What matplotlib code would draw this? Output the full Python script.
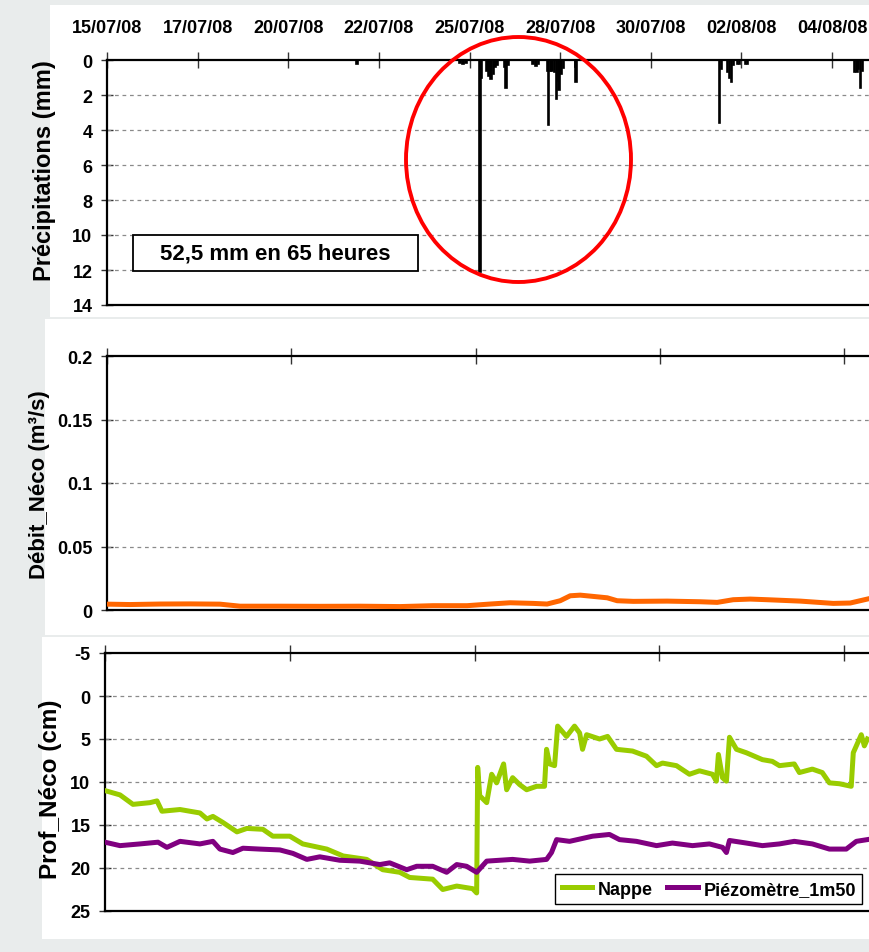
import matplotlib
matplotlib.use("Agg")
import matplotlib.pyplot as plt
from matplotlib.patches import Ellipse, Rectangle
import numpy as np

plt.rcParams['font.family'] = ['Liberation Sans', 'DejaVu Sans']
plt.rcParams['font.weight'] = 'bold'

# ---------------- data (time in hours from 15/07/08 00:00) ----------------
date_labels = ["15/07/08", "17/07/08", "20/07/08", "22/07/08", "25/07/08",
               "28/07/08", "30/07/08", "02/08/08", "04/08/08"]

rain_t = [172.3, 243.2, 245.3, 247.4, 257.0, 257.7, 261.8, 263.2, 264.6, 266.0,
          267.3, 268.7, 274.2, 274.9, 276.3, 293.5, 295.6, 297.0, 303.2, 303.9,
          305.3, 306.6, 308.0, 309.4, 310.8, 311.4, 312.8, 314.2, 322.5, 323.1,
          421.7, 423.0, 427.2, 428.6, 430.0, 431.3, 434.1, 435.4, 439.6, 441.0,
          514.7, 516.1, 517.4, 518.8, 520.2]
rain_mm = [0.2, 0.15, 0.2, 0.15, 12.1, 1.0, 0.6, 0.9, 1.1, 0.8,
           0.4, 0.3, 0.4, 1.6, 0.3, 0.2, 0.35, 0.2, 0.6, 3.7,
           0.6, 0.65, 0.7, 2.2, 1.2, 1.7, 0.8, 0.45, 0.4, 1.25,
           3.6, 0.5, 0.7, 1.0, 1.25, 0.3, 0.25, 0.25, 0.2, 0.2,
           0.7, 0.7, 0.5, 1.6, 0.6]

debit_t = [0.7, 15.8, 36.5, 57.2, 77.8, 91.6, 119.1, 146.7, 174.2, 201.8,
           224.5, 247.9, 263.8, 277.5, 293.4, 303.0, 312.0, 318.9, 325.8, 334.7,
           344.4, 351.2, 362.3, 385.7, 408.4, 420.1, 431.1, 442.8, 454.5, 477.3,
           500.0, 511.7, 523.4]
debit_v = [0.0046, 0.0043, 0.0047, 0.0048, 0.0046, 0.0030, 0.0030, 0.0029, 0.0030, 0.0027,
           0.0034, 0.0034, 0.0047, 0.0057, 0.0052, 0.0047, 0.0073, 0.0112, 0.0117, 0.0107,
           0.0096, 0.0073, 0.0068, 0.0070, 0.0065, 0.0060, 0.0081, 0.0086, 0.0081, 0.0070,
           0.0052, 0.0055, 0.0086]

nappe_t = [0, 10.3, 19.2, 30.9, 35.7, 39.1, 51.5, 58.3, 65.2, 70.0,
           74.1, 80.9, 90.6, 97.4, 108.4, 115.2, 126.9, 135.8, 152.3, 163.5,
           179.7, 190.7, 202.4, 209.2, 225.0, 231.9, 241.5, 252.4, 255.2, 255.9,
           257.3, 262.1, 265.5, 268.9, 273.7, 275.8, 279.9, 284.7, 289.5, 296.4,
           301.8, 303.2, 305.3, 308.7, 310.8, 316.9, 322.4, 325.9, 327.9, 330.7,
           339.6, 345.1, 351.2, 362.2, 371.8, 378.7, 382.8, 392.4, 401.3, 408.2,
           417.1, 419.8, 421.2, 424.0, 426.7, 428.8, 433.6, 440.4, 451.4, 458.2,
           463.1, 473.3, 476.8, 485.7, 492.5, 497.4, 504.2, 512.4, 513.8, 519.3,
           521.4, 523.5]
nappe_cm = [11.0, 11.5, 12.6, 12.4, 12.2, 13.4, 13.2, 13.4, 13.6, 14.3,
            14.0, 14.7, 15.8, 15.4, 15.5, 16.3, 16.3, 17.2, 17.8, 18.6,
            19.0, 20.2, 20.5, 21.1, 21.3, 22.5, 22.1, 22.4, 22.9, 8.3,
            11.6, 12.4, 9.1, 10.1, 7.9, 10.9, 9.5, 10.3, 10.9, 10.5,
            10.5, 6.2, 7.9, 8.1, 3.5, 4.7, 3.5, 4.3, 6.2, 4.5,
            5.0, 4.7, 6.2, 6.4, 7.0, 8.1, 7.8, 8.1, 9.1, 8.7,
            9.1, 9.9, 6.8, 9.5, 9.9, 4.8, 6.2, 6.6, 7.4, 7.6,
            8.1, 7.9, 8.9, 8.5, 8.9, 10.1, 10.2, 10.5, 6.6, 4.5,
            5.8, 5.0]

piezo_t = [0, 10.3, 24.0, 36.4, 42.5, 51.5, 65.2, 74.1, 78.9, 87.8,
           94.7, 106.3, 120.1, 129.0, 138.6, 147.5, 161.2, 174.9, 188.7, 195.5,
           207.2, 214.0, 225.0, 234.6, 241.5, 248.3, 255.2, 262.1, 271.0, 279.9,
           291.6, 303.2, 306.6, 310.1, 319.0, 334.8, 346.4, 353.3, 364.9, 378.7,
           389.6, 403.4, 415.0, 424.0, 426.7, 428.8, 440.4, 451.4, 463.1, 473.3,
           485.7, 497.4, 509.0, 515.9, 523.4]
piezo_cm = [17.0, 17.4, 17.2, 17.0, 17.6, 16.9, 17.2, 16.9, 17.8, 18.2,
            17.7, 17.8, 17.9, 18.3, 19.0, 18.7, 19.1, 19.2, 19.6, 19.4,
            20.2, 19.8, 19.8, 20.5, 19.6, 19.8, 20.5, 19.2, 19.1, 19.0,
            19.2, 19.0, 18.2, 16.7, 16.9, 16.3, 16.1, 16.7, 16.9, 17.4,
            17.1, 17.4, 17.2, 17.6, 18.2, 16.8, 17.1, 17.4, 17.2, 16.9,
            17.2, 17.8, 17.8, 16.9, 16.7]

precip_ticks = [0, 2, 4, 6, 8, 10, 12, 14]
debit_ticks = [0, 0.05, 0.1, 0.15, 0.2]
debit_ticklabels = ["0", "0.05", "0.1", "0.15", "0.2"]
prof_ticks = [-5, 0, 5, 10, 15, 20, 25]

# ---------------- layout ----------------
W, H = 869, 953
fig = plt.figure(figsize=(W / 100, H / 100), dpi=100, facecolor='#e9ecec')

def px_rect(x0, y0, x1, y1):
    return [x0 / W, 1 - y1 / H, (x1 - x0) / W, (y1 - y0) / H]

# white panel backgrounds
for (x0, y0, x1, y1) in [(50, 6, 869, 318), (45, 320, 869, 636), (42, 638, 869, 940)]:
    fig.patches.append(Rectangle((x0 / W, 1 - y1 / H), (x1 - x0) / W, (y1 - y0) / H,
                                 transform=fig.transFigure, facecolor='white',
                                 edgecolor='none', zorder=-10))

XMAX = 524.6
TICK1 = 62.4     # top axis label spacing (hours)
TICK2 = 126.9    # lower panels tick spacing (hours)
FS = 13

ax1 = fig.add_axes(px_rect(107, 61, 869, 306))
ax2 = fig.add_axes(px_rect(107, 357, 869, 611))
ax3 = fig.add_axes(px_rect(105, 654, 869, 912))

grid_kw = dict(color='#8a8a8a', linestyle=(0, (3, 3)), linewidth=0.9)

for ax in (ax1, ax2, ax3):
    ax.set_zorder(1)
    ax.set_facecolor('white')
    ax.spines['right'].set_visible(False)
    for s in ('left', 'top', 'bottom'):
        ax.spines[s].set_linewidth(1.6)
        ax.spines[s].set_color('black')
    ax.set_xlim(0, XMAX)
    ax.xaxis.tick_top()
    ax.tick_params(axis='x', direction='inout', length=11, width=1, color='#333333',
                   top=True, bottom=False)
    ax.tick_params(axis='y', direction='inout', length=9, width=1, color='#333333',
                   labelsize=FS, pad=6)
    ax.set_axisbelow(True)

# ---- panel 1: precipitation ----
ax1.bar(rain_t, rain_mm, width=1.2, color='black', edgecolor='black',
        linewidth=1.2, zorder=3)
ax1.set_ylim(14, 0)
ax1.set_yticks(precip_ticks)
ax1.set_yticklabels([str(v) for v in precip_ticks])
for v in precip_ticks[1:-1]:
    ax1.axhline(v, **grid_kw, zorder=1)
ax1.set_xticks([i * TICK1 for i in range(len(date_labels))])
ax1.set_xticklabels(date_labels, fontsize=FS, fontweight='bold')
ax1.tick_params(axis='x', labeltop=True, labelbottom=False, pad=12)
ax1.set_ylabel("Précipitations (mm)", fontsize=17, fontweight='bold')
ax1.yaxis.set_label_coords(-0.067, 0.551)

# ---- panel 2: débit ----
ax2.plot(debit_t, debit_v, color='#ff6600', linewidth=3.6, zorder=3)
ax2.set_ylim(0, 0.2)
ax2.set_yticks(debit_ticks)
ax2.set_yticklabels(debit_ticklabels)
for v in debit_ticks[1:-1]:
    ax2.axhline(v, **grid_kw, zorder=1)
ax2.set_xticks([i * TICK2 for i in range(5)])
ax2.tick_params(axis='x', labeltop=False, labelbottom=False)
ax2.set_ylabel("Débit_Néco (m³/s)", fontsize=16, fontweight='bold')
ax2.yaxis.set_label_coords(-0.075, 0.496)

# ---- panel 3: profondeur ----
ax3.plot(nappe_t, nappe_cm, color='#99cc00', linewidth=3.6, label='Nappe', zorder=3)
ax3.plot(piezo_t, piezo_cm, color='#800080', linewidth=3.6, label='Piézomètre_1m50', zorder=4)
ax3.set_ylim(25, -5)
ax3.set_yticks(prof_ticks)
ax3.set_yticklabels([str(v) for v in prof_ticks])
for v in prof_ticks[1:-1]:
    ax3.axhline(v, **grid_kw, zorder=1)
ax3.set_xticks([i * TICK2 for i in range(5)])
ax3.tick_params(axis='x', labeltop=False, labelbottom=False)
ax3.set_ylabel("Prof_Néco (cm)", fontsize=17.5, fontweight='bold')
ax3.yaxis.set_label_coords(-0.056, 0.477)
leg = ax3.legend(loc='lower right', bbox_to_anchor=(0.991, 0.027), ncol=2,
                 fontsize=FS, frameon=True, fancybox=False, framealpha=1,
                 edgecolor='black', borderaxespad=0, handlelength=1.7,
                 handletextpad=0.3, columnspacing=0.8, borderpad=0.35)
leg.get_frame().set_linewidth(1.0)
for t in leg.get_texts():
    t.set_fontweight('bold')

# ---- annotation box and red ellipse ----
bx0, by0, bx1, by1 = 133, 236, 418, 272
fig.patches.append(Rectangle((bx0 / W, 1 - by1 / H), (bx1 - bx0) / W, (by1 - by0) / H,
                             transform=fig.transFigure, facecolor='white',
                             edgecolor='black', linewidth=1.3, zorder=5))
fig.text((bx0 + bx1) / 2 / W, 1 - (by0 + by1) / 2 / H, "52,5 mm en 65 heures",
         ha='center', va='center', fontsize=16, fontweight='bold', zorder=6)

fig.patches.append(Ellipse((518.5 / W, 1 - 160.5 / H), 225 / W, 245 / H,
                           transform=fig.transFigure, facecolor='none',
                           edgecolor='#ff0000', linewidth=2.8, zorder=7))

fig.savefig("out.png", dpi=100, facecolor=fig.get_facecolor())
